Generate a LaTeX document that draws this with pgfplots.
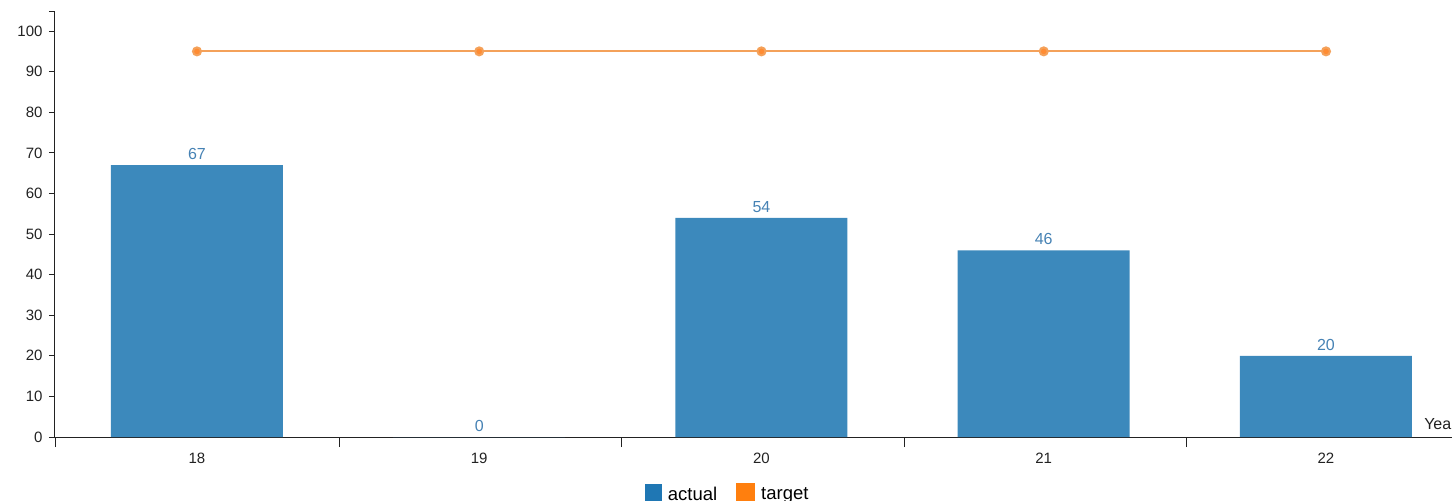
\documentclass[border=0pt]{standalone}
\usepackage{pgfplots}
\pgfplotsset{compat=1.18}
\usepackage{fontspec}
\setmainfont{Liberation Sans}
\definecolor{barblue}{HTML}{3C89BC}
\definecolor{lblue}{HTML}{4682B4}
\definecolor{legblue}{HTML}{1F77B4}
\definecolor{legorange}{HTML}{FF7F0E}
\definecolor{lineorange}{HTML}{F4A15A}
\definecolor{dotorange}{HTML}{FF8C33}
\definecolor{axisgray}{HTML}{222222}
\begin{document}
\begin{tikzpicture}
\path[use as bounding box] (0,0) rectangle (1452bp,501bp);
\begin{axis}[
  at={(55bp,64bp)}, anchor=south west,
  scale only axis, width=1397bp, height=425bp,
  xmin=-0.503, xmax=4.4465, ymin=0, ymax=104.7,
  axis lines=left,
  x axis line style={-, axisgray, line width=1bp},
  y axis line style={-, axisgray, line width=1bp},
  xtick={0,1,2,3,4}, xticklabels={18,19,20,21,22},
  major x tick style={draw=none},
  minor xtick={-0.5,0.505,1.505,2.505,3.505},
  minor tick length=10bp,
  minor tick style={axisgray, line width=1bp},
  xticklabel style={yshift=-7bp},
  ytick={0,10,...,100},
  extra y ticks={104.7}, extra y tick labels={},
  tick align=outside, major tick length=6bp,
  tick style={axisgray, line width=1bp},
  /pgf/number format/assume math mode=true,
  tick label style={font=\fontsize{15bp}{17bp}\selectfont, text=axisgray},
  yticklabel style={xshift=-3bp},
  clip=false,
  xlabel={Year},
  xlabel style={at={(axis description cs:0.98,0.0188)}, anchor=base west, font=\fontsize{16bp}{18bp}\selectfont, text=axisgray, inner sep=0pt},
  legend columns=2,
  legend style={draw=none, at={(axis description cs:0.4815,-0.108)}, anchor=north, font=\fontsize{18.5bp}{20bp}\selectfont, inner sep=0pt,
    /tikz/every odd column/.append style={column sep=4bp},
    /tikz/every even column/.append style={column sep=17bp}},
]
\addplot[ybar, bar width=172bp, fill=barblue, draw=none,
  nodes near coords,
  nodes near coords style={font=\fontsize{16bp}{18bp}\selectfont, text=lblue, anchor=south, inner sep=0pt, yshift=5bp},
  legend image code/.code={\fill[legblue] (0bp,-7bp) rectangle (17bp,10bp);}]
  coordinates {(0,67) (1,0) (2,54) (3,46) (4,20)};
\addlegendentry{actual}
\addplot[lineorange, line width=2bp, mark=*, mark size=4bp, mark options={fill=dotorange, draw=none},
  legend image code/.code={\fill[legorange] (0bp,-7bp) rectangle (17bp,10bp);}]
  coordinates {(0,95) (1,95) (2,95) (3,95) (4,95)};
\addlegendentry{target}
\end{axis}
\end{tikzpicture}
\end{document}
